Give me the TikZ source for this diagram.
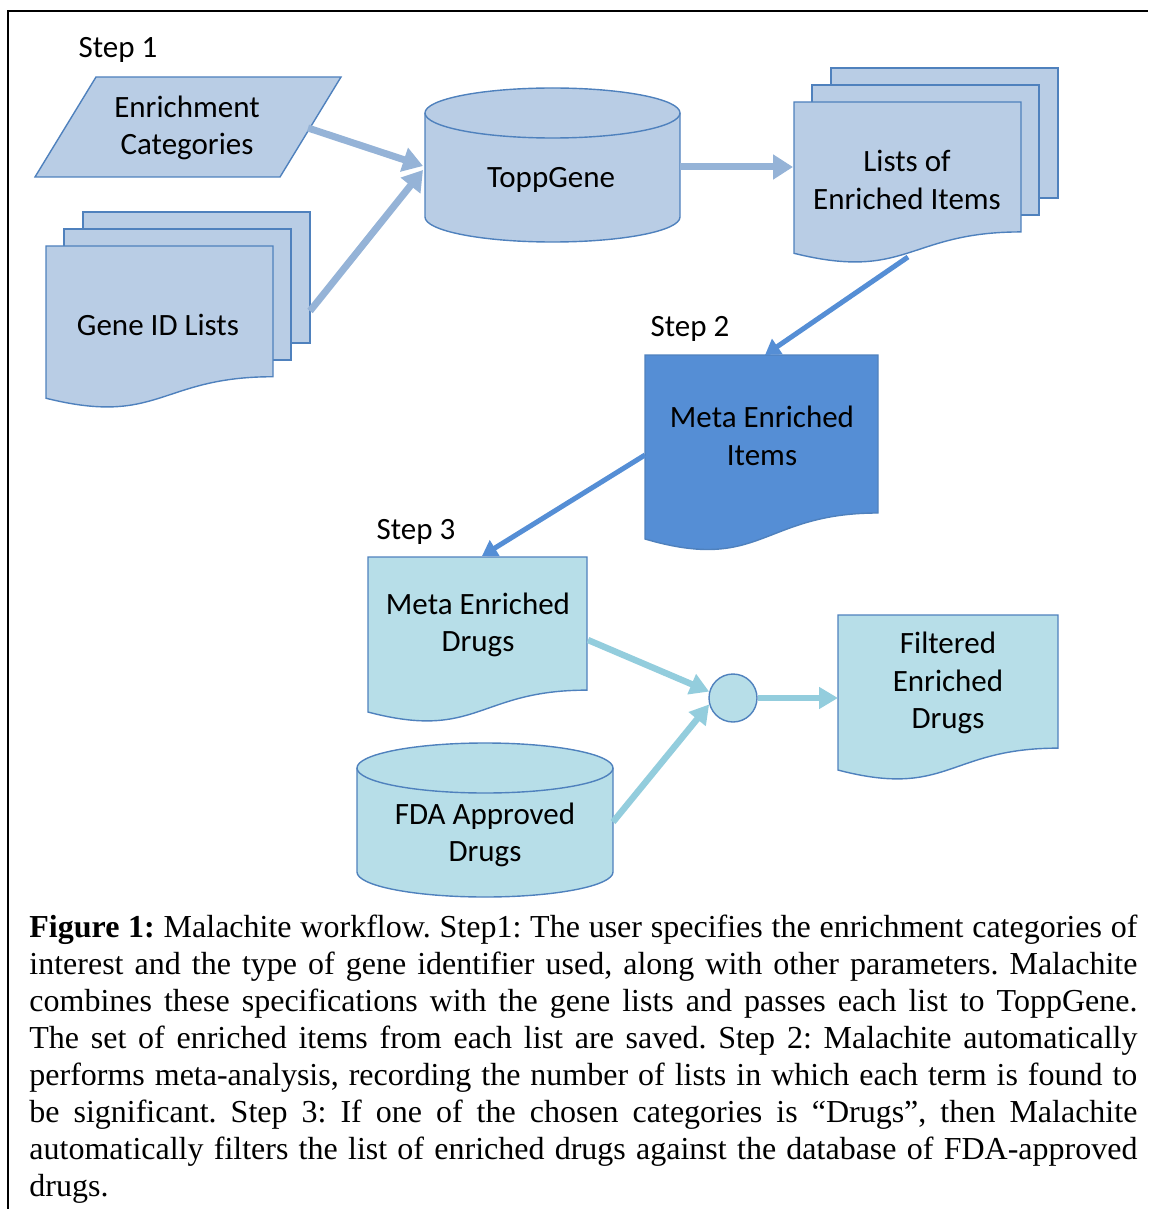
\documentclass[tikz,border=0pt]{standalone}
\usepackage{fontspec}
\setmainfont{Liberation Serif}
\newfontfamily\calibri{Carlito}
\usetikzlibrary{arrows.meta}
\definecolor{paleblue}{HTML}{B9CDE5}
\definecolor{edgeblue}{HTML}{4F81BD}
\definecolor{arrowblue}{HTML}{95B3D7}
\definecolor{deepblue}{HTML}{558ED5}
\definecolor{palecyan}{HTML}{B7DEE8}
\definecolor{arrowcyan}{HTML}{93CDDD}
\frenchspacing
% page with wavy bottom: left, top, width, height
\newcommand{\docpath}[4]{(#1,#2) -- ({#1+#3},#2) -- ({#1+#3},{#2+0.802*#4}) .. controls ({#1+0.5*#3},{#2+0.802*#4}) and ({#1+0.5*#3},{#2+1.1075*#4}) .. (#1,{#2+0.934*#4}) -- cycle}
% drum: left, top, width, height
\newcommand{\drumpath}[4]{(#1,{#2+25}) -- (#1,{#2+#4-25}) arc[start angle=180, end angle=0, x radius={#3/2}, y radius=25] -- ({#1+#3},{#2+25}) arc[start angle=0, end angle=-180, x radius={#3/2}, y radius=25] -- cycle}
\newcommand{\drumrim}[3]{(#1,{#2+25}) arc[start angle=180, end angle=0, x radius={#3/2}, y radius=25]}
\begin{document}
\begin{tikzpicture}[x=0.5pt, y=-0.5pt,
  txt/.style = {font=\calibri\fontsize{15.5}{18.8}\selectfont, align=center, inner sep=0pt, yshift=-1pt},
  page1/.style = {fill=paleblue, draw=edgeblue, line width=0.7pt},
  page2/.style = {fill=deepblue, draw=edgeblue, line width=0.7pt},
  page3/.style = {fill=palecyan, draw=edgeblue, line width=0.7pt},
  flow1/.style = {arrowblue, line width=3.5pt, -{Triangle[length=10pt, width=12pt]}},
  flow2/.style = {deepblue, line width=2.5pt, -{Triangle[length=7.5pt, width=9pt]}},
  flow3/.style = {arrowcyan, line width=3.2pt, -{Triangle[length=9.5pt, width=10.5pt]}}]
\useasboundingbox (0,0) rectangle (1148,1209);
\draw[line width=1.1pt] (8,1209) -- (8,11) -- (1148,11);

% step 1
\draw[page1] (96,77) -- (341,77) -- (280,177) -- (35,177) -- cycle;
\draw[page1] (83,212) rectangle (310,343);
\draw[page1] (64,229) rectangle (291,360);
\draw[page1] \docpath{46}{246}{227}{163};
\draw[page1] \drumpath{425}{88}{255}{154};
\draw[page1] \drumrim{425}{88}{255};
\draw[page1] (831,68) rectangle (1058,198);
\draw[page1] (812,85) rectangle (1039,215);
\draw[page1] \docpath{794}{102}{227}{162};

% step 2
\draw[page2] \docpath{645}{355}{233}{197};

% step 3
\draw[page3] \docpath{368}{557}{219}{166};
\draw[page3] \drumpath{357}{743}{256}{154};
\draw[page3] \drumrim{357}{743}{256};
\draw[page3] \docpath{838}{615}{220}{166};

\node[txt] (step1) at (118,48) {Step 1};
\node[txt] (enrich) at (187,126) {Enrichment\\Categories};
\node[txt] (genes) at (158,323) {Gene ID Lists};
\node[txt] (topp) at (551,178) {ToppGene};
\node[txt] (lists) at (907,178) {Lists of\\Enriched Items};
\node[txt] (step2) at (690,327) {Step 2};
\node[txt] (items) at (762,434) {Meta Enriched\\Items};
\node[txt] (step3) at (416,530) {Step 3};
\node[txt] (drugs) at (478,623) {Meta Enriched\\Drugs};
\node[txt] (fda) at (485,833) {FDA Approved\\Drugs};
\node[txt] (filtered) at (948,681) {Filtered\\Enriched\\Drugs};
\node[circle, page3, minimum size=24pt, inner sep=0pt] (join) at (733,698) {};

\coordinate (enrich-out) at (308,128);
\coordinate (genes-out) at (310,311);
\coordinate (topp-in1) at (423,166);
\coordinate (topp-in2) at (423,170);
\coordinate (topp-out) at (680,167);
\coordinate (lists-in) at (793,167);
\coordinate (lists-out) at (908,257);
\coordinate (items-in) at (765,355);
\coordinate (items-out) at (645,455);
\coordinate (drugs-in) at (482,556);
\coordinate (drugs-out) at (588,640);
\coordinate (fda-out) at (613,822);
\coordinate (filtered-in) at (838,698);

\draw[flow1] (enrich-out) -- (topp-in1);
\draw[flow1] (genes-out) -- (topp-in2);
\draw[flow1] (topp-out) -- (lists-in);
\draw[flow2] (lists-out) -- (items-in);
\draw[flow2] (items-out) -- (drugs-in);
\draw[flow3] (drugs-out) -- (join.165);
\draw[flow3] (fda-out) -- (join.195);
\draw[flow3] (join.east) -- (filtered-in);

\node[anchor=north west, text width=554pt, inner sep=0pt, align=justify,
  font=\fontsize{16}{18.45}\selectfont] (caption) at (29,915)
  {\textbf{Figure 1:} Malachite workflow. Step1: The user specifies the enrichment categories of\linebreak
  interest and the type of gene identifier used, along with other parameters. Malachite\linebreak
  combines these specifications with the gene lists and passes each list to ToppGene.\linebreak
  The set of enriched items from each list are saved. Step 2: Malachite automatically\linebreak
  performs meta-analysis, recording the number of lists in which each term is found to\linebreak
  be significant. Step 3: If one of the chosen categories is “Drugs”, then Malachite\linebreak
  automatically filters the list of enriched drugs against the database of FDA-approved\linebreak
  drugs.};
\end{tikzpicture}
\end{document}
